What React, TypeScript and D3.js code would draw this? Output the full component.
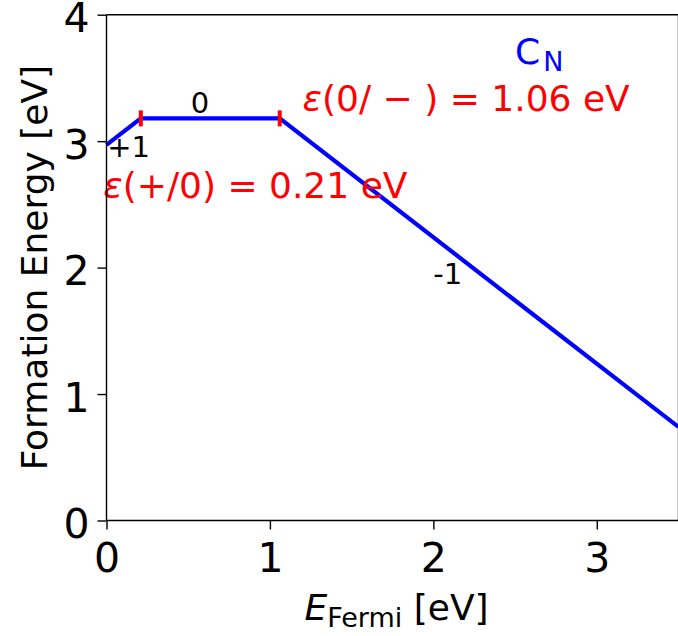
import React, { useEffect, useRef } from 'react';
import * as d3 from 'd3';

// E_F points of the lower envelope and the formation energy at each one
const fermiLevels = [0, 0.21, 1.06, 3.5];
const formationEnergy = [2.97, 3.18, 3.18, 0.74];

// charge transition levels (red ticks)
const transitionLevels = [0.21, 1.06];
const transitionEnergy = [3.18, 3.18];

// charge state labels (data coordinates)
const chargeLabels = ['+1', '0', '-1'];
const chargeLabelX = [0.005, 0.572, 2.0];
const chargeLabelY = [2.877, 3.225, 1.87];
const chargeLabelAnchor = ['start', 'middle', 'start'];

// transition level annotations
const levelTexts = ['(+/0) = 0.21 eV', '(0/ \u2212 ) = 1.06 eV'];
const levelTextX = [-0.02, 1.2];
const levelTextY = [2.553, 3.236];

const defectName = 'C';
const defectSite = 'N';
const defectX = 2.5;
const defectY = 3.607;

const xTicks = [0, 1, 2, 3];
const yTicks = [0, 1, 2, 3, 4];

const width = 678;
const height = 636;
const margin = { left: 106.5, top: 14.7, right: -0.5, bottom: 115.5 };
const font = 'DejaVu Sans';

export default function App() {
  const axisX = useRef<SVGGElement>(null);
  const axisY = useRef<SVGGElement>(null);

  const x = d3
    .scaleLinear()
    .domain([0, 3.5])
    .range([margin.left, width - margin.right]);
  const y = d3
    .scaleLinear()
    .domain([0, 4])
    .range([height - margin.bottom, margin.top]);

  useEffect(() => {
    const gx = d3.select(axisX.current!);
    gx.call(
      d3.axisBottom(x).tickValues(xTicks).tickFormat(d3.format('d')).tickSize(9).tickSizeOuter(0).tickPadding(13)
    );
    const gy = d3.select(axisY.current!);
    gy.call(
      d3.axisLeft(y).tickValues(yTicks).tickFormat(d3.format('d')).tickSize(9).tickSizeOuter(0).tickPadding(8)
    );
    [gx, gy].forEach(g => {
      g.attr('font-family', font).attr('font-size', 41);
      g.selectAll('.domain').remove();
      g.selectAll('line').attr('stroke', '#000').attr('stroke-width', 1.4);
      g.selectAll('text').attr('fill', '#000');
    });
    gy.selectAll('text').attr('dy', '0.42em');
  }, []);

  const line = d3
    .line<number>()
    .x((d, i) => x(fermiLevels[i]))
    .y(d => y(d));

  const x0 = x(0);
  const x1 = x(3.5);
  const y0 = y(0);
  const y1 = y(4);

  return (
    <svg
      width={width}
      height={height}
      viewBox={`0 0 ${width} ${height}`}
      style={{ position: 'absolute', left: 0, top: 0, background: '#fff' }}
    >
      <rect width={width} height={height} fill="#fff" />
      <path d={line(formationEnergy) || ''} fill="none" stroke="#0000ff" strokeWidth={4.2} />
      {transitionLevels.map((t, i) => (
        <line
          key={i}
          x1={x(t)}
          x2={x(t)}
          y1={y(transitionEnergy[i]) - 8}
          y2={y(transitionEnergy[i]) + 8}
          stroke="#ff0000"
          strokeWidth={4}
        />
      ))}
      {chargeLabels.map((c, i) => (
        <text
          key={i}
          x={x(chargeLabelX[i])}
          y={y(chargeLabelY[i])}
          textAnchor={chargeLabelAnchor[i] as any}
          fontFamily={font}
          fontSize={29}
          fill="#000"
        >
          {c}
        </text>
      ))}
      {levelTexts.map((s, i) => (
        <text
          key={i}
          x={x(levelTextX[i])}
          y={y(levelTextY[i])}
          fontFamily={font}
          fontSize={36}
          fill="#ff0000"
          style={{ whiteSpace: 'pre' }}
        >
          <tspan fontStyle="italic">ε</tspan>
          <tspan>{s}</tspan>
        </text>
      ))}
      <text x={x(defectX)} y={y(defectY)} fontFamily={font} fontSize={36} fill="#0000ff">
        <tspan>{defectName}</tspan>
        <tspan dx={3} dy={6.4} fontSize={27}>
          {defectSite}
        </tspan>
      </text>

      {/* spines */}
      <line x1={x0} x2={x0} y1={y0} y2={y1} stroke="#000" strokeWidth={1.4} />
      <line x1={x0} x2={x1} y1={y0} y2={y0} stroke="#000" strokeWidth={1.4} />
      <line x1={x0} x2={x1} y1={y1} y2={y1} stroke="#000" strokeWidth={1.4} />
      <line x1={x1} x2={x1} y1={y0} y2={y1} stroke="#000" strokeWidth={1.4} />

      <g ref={axisX} transform={`translate(0, ${y0})`} />
      <g ref={axisY} transform={`translate(${x0}, 0)`} />

      <text
        x={(x0 + x1) / 2 + 4}
        y={620}
        textAnchor="middle"
        fontFamily={font}
        fontSize={36}
        fill="#000"
        style={{ whiteSpace: 'pre' }}
      >
        <tspan fontStyle="italic">E</tspan>
        <tspan fontSize={27} dy={7}>
          Fermi
        </tspan>
        <tspan dy={-7}> [eV]</tspan>
      </text>
      <text
        transform={`translate(47, ${(y0 + y1) / 2}) rotate(-90)`}
        textAnchor="middle"
        fontFamily={font}
        fontSize={36}
        fill="#000"
      >
        Formation Energy [eV]
      </text>
    </svg>
  );
}
